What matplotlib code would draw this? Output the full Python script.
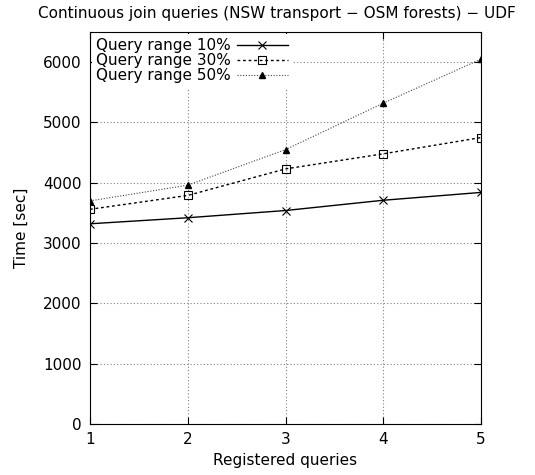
import matplotlib
matplotlib.use("Agg")
import matplotlib.pyplot as plt

queries = [1, 2, 3, 4, 5]
range_10 = [3320, 3420, 3540, 3710, 3840]
range_30 = [3560, 3790, 4230, 4480, 4750]
range_50 = [3700, 3960, 4550, 5320, 6050]
labels = ["Query range 10%", "Query range 30%", "Query range 50%"]

plt.rcParams['font.family'] = ['DejaVu Sans']
plt.rcParams['font.size'] = 11

fig = plt.figure(figsize=(5.35, 4.75), dpi=100)
ax = fig.add_axes([90 / 535, 51 / 475, 391 / 535, 392 / 475])

ax.plot(queries, range_10, color='black', lw=1, ls='-', marker='x', ms=6,
        mew=0.8, label=labels[0])
ax.plot(queries, range_30, color='black', lw=1, ls=(0, (2, 2)), marker='s', ms=6,
        mfc='none', mew=0.8, label=labels[1])
ax.plot(queries, range_50, color='#444444', lw=0.8, ls=(0, (1, 1.5)), marker='^',
        ms=4, mfc='black', mec='black', label=labels[2])

ax.set_xlim(1, 5)
ax.set_ylim(0, 6500)
ax.set_xticks(queries)
ax.set_yticks(range(0, 7000, 1000))
ax.tick_params(direction='in', top=True, right=True, length=5, pad=6)
ax.grid(True, color='gray', ls=(0, (1, 2)), lw=0.8)

ax.set_xlabel("Registered queries", labelpad=4)
ax.set_ylabel("Time [sec]", labelpad=10)
ax.set_title("Continuous join queries (NSW transport \u2212 OSM forests) \u2212 UDF",
             fontsize=11, pad=10, x=0.478)

leg = ax.legend(loc='upper left', frameon=True, markerfirst=False, handlelength=3.3,
                borderaxespad=0.1, labelspacing=0.0, handletextpad=0.4,
                borderpad=0.3, fancybox=False)
leg.get_frame().set_facecolor('white')
leg.get_frame().set_edgecolor('none')
leg.get_frame().set_alpha(1)

fig.savefig("out.png")
